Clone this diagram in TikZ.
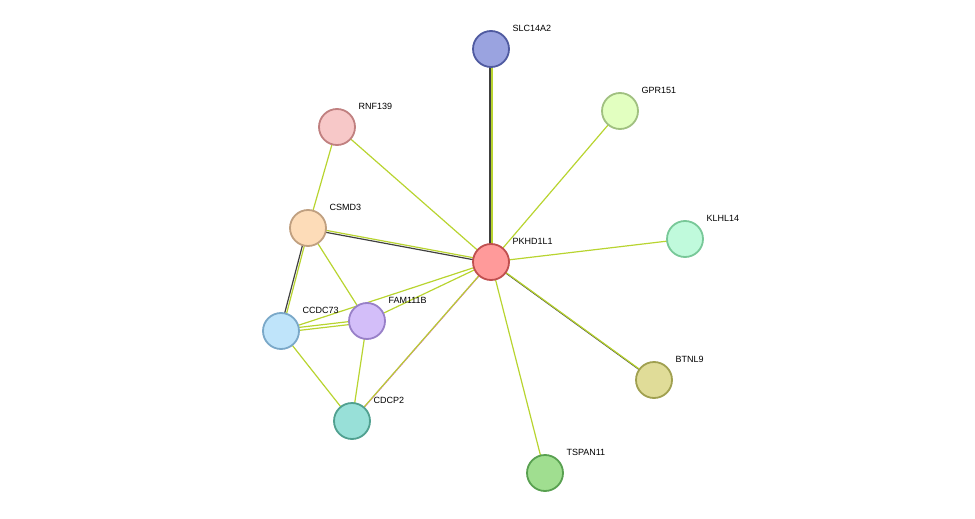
\documentclass[tikz,border=0pt]{standalone}
\usepackage{fontspec}
\setmainfont{Liberation Sans}
\usepackage{xcolor}
\usetikzlibrary{backgrounds}
\definecolor{lime}{HTML}{B8D430}
\definecolor{dark}{HTML}{404040}
\definecolor{mag}{HTML}{E040E0}
\definecolor{fSLC}{HTML}{9AA3E0}\definecolor{dSLC}{HTML}{4F5AA0}
\definecolor{fGPR}{HTML}{E2FFC0}\definecolor{dGPR}{HTML}{A0C080}
\definecolor{fRNF}{HTML}{F7C8C8}\definecolor{dRNF}{HTML}{C08080}
\definecolor{fCSM}{HTML}{FDDCB8}\definecolor{dCSM}{HTML}{C0A080}
\definecolor{fKLH}{HTML}{C0FADC}\definecolor{dKLH}{HTML}{78C898}
\definecolor{fFAM}{HTML}{D3BEF9}\definecolor{dFAM}{HTML}{9880C8}
\definecolor{fCCD}{HTML}{BFE4FA}\definecolor{dCCD}{HTML}{7AA8C8}
\definecolor{fBTN}{HTML}{E0DC98}\definecolor{dBTN}{HTML}{A0A050}
\definecolor{fCDC}{HTML}{98E0D8}\definecolor{dCDC}{HTML}{50A090}
\definecolor{fTSP}{HTML}{A0DE90}\definecolor{dTSP}{HTML}{58A050}
\definecolor{fPKH}{HTML}{FF9A9A}\definecolor{dPKH}{HTML}{C04F4F}
\tikzset{
  prot/.style={circle, minimum size=36pt, inner sep=0pt, line width=1.8pt},
  lbl/.style={anchor=west, font=\fontsize{9}{10}\selectfont},
  ln/.style={line width=1.2pt}
}
\newcommand{\prot}[5]{%
  \node[prot, fill=#4, draw=#5] (#1) at (#2,#3) {};
  \node[lbl] (#1-l) at (#2+18,#3-21) {#1};}
\begin{document}
\begin{tikzpicture}[x=1pt,y=-1pt]
\useasboundingbox (0,0) rectangle (975,519);
% proteins
\prot{SLC14A2}{491}{49}{fSLC}{dSLC}
\prot{GPR151}{620}{111}{fGPR}{dGPR}
\prot{RNF139}{337}{127}{fRNF}{dRNF}
\prot{CSMD3}{308}{228}{fCSM}{dCSM}
\prot{KLHL14}{685}{239}{fKLH}{dKLH}
\prot{FAM111B}{367}{321}{fFAM}{dFAM}
\prot{CCDC73}{281}{331}{fCCD}{dCCD}
\prot{BTNL9}{654}{380}{fBTN}{dBTN}
\prot{CDCP2}{352}{421}{fCDC}{dCDC}
\prot{TSPAN11}{545}{473}{fTSP}{dTSP}
\prot{PKHD1L1}{491}{262}{fPKH}{dPKH}
% edges
\begin{scope}[on background layer]
\draw[ln,dark,transform canvas={xshift=-1pt}] (PKHD1L1.center) -- (SLC14A2.center);
\draw[ln,lime,transform canvas={xshift=1pt}] (PKHD1L1.center) -- (SLC14A2.center);
\draw[ln,dark,transform canvas={yshift=-1pt}] (PKHD1L1.center) -- (CSMD3.center);
\draw[ln,lime,transform canvas={yshift=1pt}] (PKHD1L1.center) -- (CSMD3.center);
\draw[ln,dark,transform canvas={xshift=1pt,yshift=-1pt}] (PKHD1L1.center) -- (BTNL9.center);
\draw[ln,lime,transform canvas={xshift=-1pt,yshift=1pt}] (PKHD1L1.center) -- (BTNL9.center);
\draw[ln,mag,transform canvas={xshift=1pt,yshift=1pt}] (PKHD1L1.center) -- (CDCP2.center);
\draw[ln,lime,transform canvas={xshift=-1pt,yshift=-1pt}] (PKHD1L1.center) -- (CDCP2.center);
\draw[ln,dark,transform canvas={xshift=-1pt}] (CSMD3.center) -- (CCDC73.center);
\draw[ln,lime,transform canvas={xshift=1pt}] (CSMD3.center) -- (CCDC73.center);
\draw[ln,lime,transform canvas={yshift=-1.5pt}] (CCDC73.center) -- (FAM111B.center);
\draw[ln,lime,transform canvas={yshift=1.5pt}] (CCDC73.center) -- (FAM111B.center);
\foreach \a/\b in {PKHD1L1/GPR151, PKHD1L1/RNF139, PKHD1L1/KLHL14,
  PKHD1L1/TSPAN11, PKHD1L1/FAM111B, PKHD1L1/CCDC73, RNF139/CSMD3,
  CSMD3/FAM111B, CCDC73/CDCP2, FAM111B/CDCP2}
  \draw[ln,lime] (\a.center) -- (\b.center);
\end{scope}
\end{tikzpicture}
\end{document}
